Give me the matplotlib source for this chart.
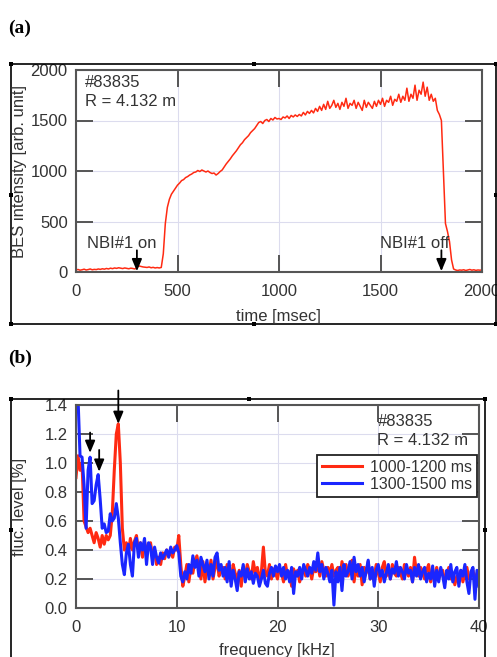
import matplotlib
matplotlib.use("Agg")
import matplotlib.pyplot as plt
from matplotlib.patches import Rectangle
import numpy as np

W, H = 497, 657

# ---- panel (a): BES intensity vs time (10 ms steps, 0..2000 ms) ----
t_ms = np.arange(0, 2001, 10)
bes = [
    20, 25, 18, 22, 28, 20, 24, 30, 22, 26,
    24, 30, 26, 32, 28, 35, 30, 38, 33, 40,
    36, 42, 38, 34, 40, 36, 32, 38, 35, 30,
    45, 60, 55, 50, 48, 45, 50, 42, 46, 40,
    44, 40, 45, 180, 480, 640, 720, 770, 800, 830,
    860, 880, 905, 915, 935, 945, 960, 970, 985, 990,
    1005, 995, 1010, 1000, 990, 1000, 985, 975, 980, 960,
    975, 995, 1010, 1040, 1070, 1095, 1120, 1150, 1175, 1200,
    1230, 1260, 1280, 1310, 1330, 1350, 1380, 1400, 1420, 1450,
    1480, 1490, 1470, 1500, 1510, 1490, 1520, 1505, 1530, 1515,
    1520, 1510, 1535, 1525, 1545, 1520, 1550, 1535, 1555, 1540,
    1560, 1545, 1580, 1555, 1590, 1570, 1600, 1575, 1620, 1590,
    1640, 1600, 1660, 1610, 1690, 1620, 1650, 1700, 1630, 1670,
    1610, 1680, 1640, 1720, 1620, 1670, 1650, 1700, 1620, 1680,
    1640, 1600, 1700, 1630, 1680, 1650, 1620, 1690, 1640, 1700,
    1660, 1720, 1640, 1700, 1680, 1740, 1650, 1710, 1690, 1760,
    1680, 1740, 1700, 1820, 1690, 1760, 1720, 1850, 1700, 1800,
    1760, 1880, 1740, 1830, 1700, 1760, 1690, 1720, 1600, 1560,
    1500, 1000, 480, 400, 300, 120, 30, 20, 15, 20,
    18, 22, 15, 20, 25, 18, 22, 16, 20, 18,
    20,
]

# ---- panel (b): fluctuation spectra (0.2 kHz steps, 0..40 kHz) ----
freq = np.round(np.arange(0, 40.01, 0.2), 1)
fluc_1000_1200 = [
    0.90, 1.05, 0.95, 1.00, 0.60, 0.56, 0.52, 0.55, 0.50, 0.45,
    0.52, 0.48, 0.42, 0.50, 0.44, 0.50, 0.47, 0.50, 0.65, 0.95,
    1.20, 1.27, 1.00, 0.55, 0.40, 0.45, 0.38, 0.48, 0.40, 0.46,
    0.50, 0.40, 0.45, 0.35, 0.46, 0.38, 0.44, 0.45, 0.35, 0.40,
    0.30, 0.35, 0.30, 0.38, 0.34, 0.40, 0.36, 0.38, 0.35, 0.42,
    0.40, 0.50, 0.30, 0.15, 0.22, 0.30, 0.18, 0.28, 0.24, 0.32,
    0.36, 0.28, 0.20, 0.32, 0.18, 0.28, 0.24, 0.33, 0.20, 0.28,
    0.32, 0.22, 0.26, 0.28, 0.20, 0.30, 0.22, 0.18, 0.30, 0.24,
    0.20, 0.26, 0.15, 0.28, 0.22, 0.30, 0.25, 0.20, 0.32, 0.24,
    0.28, 0.20, 0.25, 0.42, 0.24, 0.22, 0.30, 0.20, 0.27, 0.24,
    0.20, 0.28, 0.24, 0.18, 0.30, 0.22, 0.25, 0.15, 0.27, 0.22,
    0.26, 0.18, 0.24, 0.28, 0.22, 0.30, 0.26, 0.20, 0.28, 0.25,
    0.30, 0.22, 0.32, 0.26, 0.22, 0.28, 0.24, 0.30, 0.22, 0.26,
    0.28, 0.20, 0.32, 0.24, 0.30, 0.22, 0.26, 0.33, 0.18, 0.28,
    0.22, 0.30, 0.16, 0.28, 0.24, 0.32, 0.20, 0.26, 0.22, 0.30,
    0.24, 0.18, 0.28, 0.32, 0.22, 0.26, 0.20, 0.30, 0.24, 0.22,
    0.28, 0.24, 0.20, 0.30, 0.25, 0.22, 0.28, 0.18, 0.35, 0.24,
    0.22, 0.28, 0.25, 0.20, 0.26, 0.30, 0.18, 0.24, 0.22, 0.28,
    0.20, 0.24, 0.26, 0.18, 0.22, 0.28, 0.20, 0.24, 0.16, 0.22,
    0.20, 0.26, 0.18, 0.24, 0.28, 0.20, 0.22, 0.26, 0.18, 0.24,
    0.20,
]
fluc_1300_1500 = [
    1.60, 1.45, 1.05, 1.04, 0.85, 0.55, 0.95, 1.04, 0.72, 0.74,
    0.85, 0.92, 0.75, 0.55, 0.58, 0.52, 0.53, 0.65, 0.60, 0.62,
    0.72, 0.62, 0.45, 0.30, 0.23, 0.38, 0.44, 0.30, 0.22, 0.45,
    0.48, 0.35, 0.45, 0.40, 0.48, 0.30, 0.45, 0.42, 0.30, 0.42,
    0.35, 0.31, 0.38, 0.34, 0.37, 0.40, 0.35, 0.42, 0.38, 0.40,
    0.43, 0.38, 0.22, 0.18, 0.25, 0.20, 0.30, 0.24, 0.36, 0.28,
    0.33, 0.22, 0.35, 0.30, 0.25, 0.33, 0.20, 0.30, 0.22, 0.35,
    0.38, 0.26, 0.30, 0.22, 0.28, 0.18, 0.32, 0.15, 0.26, 0.20,
    0.12, 0.25, 0.22, 0.30, 0.18, 0.27, 0.20, 0.25, 0.17, 0.24,
    0.22, 0.15, 0.20, 0.26, 0.17, 0.15, 0.24, 0.28, 0.22, 0.29,
    0.25, 0.30, 0.22, 0.28, 0.20, 0.26, 0.18, 0.28, 0.10, 0.25,
    0.22, 0.28, 0.20, 0.30, 0.26, 0.22, 0.28, 0.24, 0.32, 0.26,
    0.38, 0.25, 0.30, 0.20, 0.28, 0.24, 0.18, 0.26, 0.02, 0.25,
    0.18, 0.28, 0.12, 0.30, 0.22, 0.25, 0.32, 0.20, 0.35, 0.25,
    0.30, 0.22, 0.28, 0.18, 0.25, 0.33, 0.20, 0.28, 0.15, 0.26,
    0.30, 0.22, 0.26, 0.18, 0.24, 0.30, 0.20, 0.27, 0.24, 0.32,
    0.22, 0.28, 0.25, 0.20, 0.30, 0.24, 0.26, 0.18, 0.28, 0.22,
    0.30, 0.20, 0.25, 0.28, 0.18, 0.24, 0.20, 0.29, 0.15, 0.26,
    0.18, 0.28, 0.22, 0.14, 0.26, 0.20, 0.30, 0.18, 0.25, 0.28,
    0.15, 0.26, 0.22, 0.30, 0.18, 0.10, 0.25, 0.28, 0.06, 0.26,
    0.15,
]

RED = "#ff2a12"
BLUE = "#1a26ff"
TXT = "#333333"
SPINE = "#555555"
GRID = "#dcdcee"
FS = 12

plt.rcParams.update({
    "font.family": ["Liberation Sans", "DejaVu Sans"],
    "font.size": FS,
})

fig = plt.figure(figsize=(W / 100, H / 100), dpi=100)


def px_axes(x0, y0, x1, y1):
    # pixel box (top-left origin) -> figure axes
    return fig.add_axes([x0 / W, 1 - y1 / H, (x1 - x0) / W, (y1 - y0) / H])


def style(ax):
    for s in ax.spines.values():
        s.set_color(SPINE)
        s.set_linewidth(1.5)
    ax.tick_params(direction="in", length=12, width=1.4, color=SPINE,
                   top=True, right=True, labelcolor=TXT, labelsize=FS)
    ax.tick_params(axis="x", pad=9)
    ax.tick_params(axis="y", pad=6)
    ax.grid(True, color=GRID, lw=0.8)
    ax.set_axisbelow(True)


def frame(x0, y0, x1, y1, handles):
    fig.add_artist(Rectangle((x0 / W, 1 - y1 / H), (x1 - x0) / W, (y1 - y0) / H,
                             transform=fig.transFigure, fill=False,
                             ec="black", lw=1.2))
    for hx, hy in handles:
        fig.add_artist(Rectangle(((hx - 2) / W, 1 - (hy + 2) / H), 4 / W, 4 / H,
                                 transform=fig.transFigure, fc="black", ec="none"))


# ---------------- panel (a) ----------------
fig.text(8 / W, 1 - 28 / H, "(a)", fontsize=14, fontweight="bold",
         family="Liberation Serif", va="center", ha="left")
frame(11, 64, 496, 324, [(11, 64), (254, 64), (496, 64), (11, 195), (496, 195),
                         (11, 324), (254, 324), (496, 324)])

axa = px_axes(76, 70, 482, 272)
style(axa)
axa.plot(t_ms, bes, color=RED, lw=1.1)
axa.set_xlim(0, 2000)
axa.set_ylim(0, 2000)
axa.set_xticks([0, 500, 1000, 1500, 2000])
axa.set_yticks([0, 500, 1000, 1500, 2000])
axa.text(0.022, 0.975, "#83835\nR = 4.132 m", transform=axa.transAxes,
         ha="left", va="top", color=TXT, fontsize=FS, linespacing=1.35)
axa.text(227, 285, "NBI#1 on", ha="center", va="center", color=TXT, fontsize=FS)
axa.text(1670, 285, "NBI#1 off", ha="center", va="center", color=TXT, fontsize=FS)
for xa in (300, 1800):
    axa.annotate("", xy=(xa, 8), xytext=(xa, 215),
                 arrowprops=dict(arrowstyle="-|>,head_length=0.6,head_width=0.25",
                                 color="black", lw=1.3, shrinkA=0, shrinkB=0))
fig.text(20 / W, 1 - 172 / H, "BES intensity [arb. unit]", rotation=90,
         ha="center", va="center", color=TXT, fontsize=FS)
fig.text(278 / W, 1 - 316 / H, "time [msec]", ha="center", va="center",
         color=TXT, fontsize=FS)

# ---------------- panel (b) ----------------
fig.text(8 / W, 1 - 358 / H, "(b)", fontsize=14, fontweight="bold",
         family="Liberation Serif", va="center", ha="left")
frame(11, 399, 485, 700, [(11, 399), (249, 399), (485, 399), (11, 530), (485, 530)])

axb = px_axes(76, 405, 479, 608)
style(axb)
axb.plot(freq, fluc_1000_1200, color=RED, lw=2.2, label="1000-1200 ms")
axb.plot(freq, fluc_1300_1500, color=BLUE, lw=2.2, label="1300-1500 ms")
axb.set_xlim(0, 40)
axb.set_ylim(0, 1.4)
axb.set_xticks([0, 10, 20, 30, 40])
yt = np.round(np.arange(0, 1.41, 0.2), 1)
axb.set_yticks(yt)
axb.set_yticklabels([f"{v:.1f}" for v in yt])
axb.text(0.748, 0.955, "#83835\nR = 4.132 m", transform=axb.transAxes,
         ha="left", va="top", color=TXT, fontsize=FS, linespacing=1.3)
leg = axb.legend(loc="upper right", bbox_to_anchor=(0.995, 0.755), fontsize=11.5,
                 frameon=True, fancybox=False, framealpha=1, edgecolor="#222222",
                 handlelength=2.5, borderpad=0.3, labelspacing=0.15,
                 handletextpad=0.5, borderaxespad=0)
leg.get_frame().set_linewidth(1.3)
for t in leg.get_texts():
    t.set_color(TXT)
for fx, y0, y1 in ((1.4, 1.21, 1.07), (2.3, 1.09, 0.94), (4.2, 1.50, 1.27)):
    axb.annotate("", xy=(fx, y1), xytext=(fx, y0), annotation_clip=False,
                 arrowprops=dict(arrowstyle="-|>,head_length=0.6,head_width=0.25",
                                 color="black", lw=1.3, shrinkA=0, shrinkB=0))
fig.text(20 / W, 1 - 507 / H, "fluc. level [%]", rotation=90,
         ha="center", va="center", color=TXT, fontsize=FS)
fig.text(277 / W, 1 - 650 / H, "frequency [kHz]", ha="center", va="center",
         color=TXT, fontsize=FS)

fig.savefig("out.png", dpi=100)
